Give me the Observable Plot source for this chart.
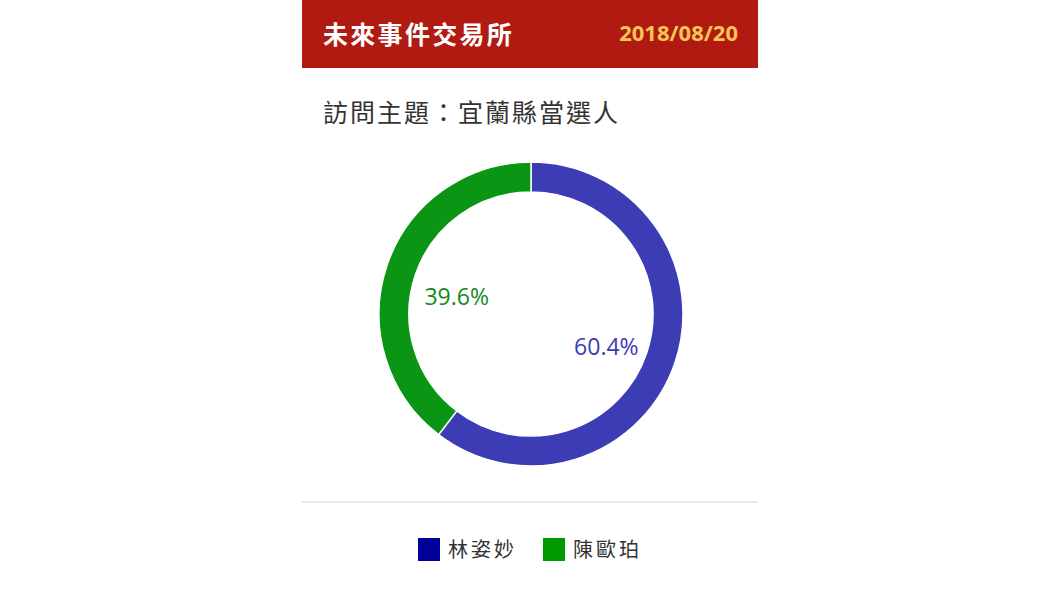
<!DOCTYPE html>
<html>
<head>
<meta charset="utf-8">
<script src="https://cdn.jsdelivr.net/npm/d3@7"></script>
<script src="https://cdn.jsdelivr.net/npm/@observablehq/plot@0.6"></script>
<style>
  html, body { margin: 0; padding: 0; background: #fff; }
  body { width: 1060px; height: 596px; position: relative; overflow: hidden;
         font-family: "Noto Sans CJK TC", "Open Sans", sans-serif; }
  #card { position: absolute; left: 302px; top: 0; width: 456px; height: 596px; }
  #header { position: absolute; left: 0; top: 0; width: 456px; height: 68px; background: #b11a10; }
  #title { position: absolute; left: 21px; top: 15px; font-size: 25px; line-height: 36px;
           color: #fff; letter-spacing: 2.3px; font-weight: 700; }
  #date { position: absolute; right: 20px; top: 16px; font-size: 22px; line-height: 32px;
          color: #f6c55a; font-weight: 700; font-family: "Open Sans", sans-serif; }
  #subtitle { position: absolute; left: 21px; top: 95px; font-size: 25px; line-height: 32px;
              color: #333; letter-spacing: 2px; }
  #chart { position: absolute; left: 65px; top: 150px; }
  #rule { position: absolute; left: 0; top: 501px; width: 456px; height: 2px; background: #e8e8e8; }
  #legend { position: absolute; left: 0; top: 535px; width: 456px; display: flex; justify-content: center;
            align-items: center; }
  .item { display: flex; align-items: center; margin: 0 13px; }
  .sw { width: 22px; height: 23px; margin-right: 8px; }
  .lab { font-size: 20px; letter-spacing: 3px; color: #333; line-height: 28px; }
</style>
</head>
<body>
<div id="card">
  <div id="header"><div id="title"></div><div id="date"></div></div>
  <div id="subtitle"></div>
  <div id="chart"></div>
  <div id="rule"></div>
  <div id="legend"></div>
</div>
<script>
const titleText = "未來事件交易所";
const dateText = "2018/08/20";
const subtitleText = "訪問主題：宜蘭縣當選人";
const candidates = ["林姿妙", "陳歐珀"];
const shares = [60.4, 39.6];
const ringColors = ["#3c3cb4", "#0a9614"];
const labelColors = ["#3c3cb4", "#14891a"];
const legendColors = ["#000099", "#009900"];

document.getElementById("title").textContent = titleText;
document.getElementById("date").textContent = dateText;
document.getElementById("subtitle").textContent = subtitleText;

const innerRatio = 0.803;
const labelRadius = 0.52;

const pie = d3.pie().sort(null).value(d => d.share).startAngle(0).endAngle(2 * Math.PI);
const rows = candidates.map((name, i) => ({name, share: shares[i], ring: ringColors[i], label: labelColors[i]}));
const arcs = pie(rows);
const labels = arcs.map(a => {
  const mid = (a.startAngle + a.endAngle) / 2;
  return {
    x: labelRadius * Math.sin(mid),
    y: labelRadius * Math.cos(mid),
    text: a.data.share.toFixed(1) + "%",
    color: a.data.label
  };
});

const ringMark = (index, scales) => {
  const cx = scales.x(0), cy = scales.y(0);
  const R = scales.x(1) - scales.x(0);
  const arc = d3.arc().innerRadius(R * innerRatio).outerRadius(R);
  const g = d3.create("svg:g").attr("transform", `translate(${cx},${cy})`);
  g.selectAll("path").data(arcs).join("path")
    .attr("d", arc)
    .attr("fill", d => d.data.ring)
    .attr("stroke", "#fff")
    .attr("stroke-width", 1.5);
  return g.node();
};

const plot = Plot.plot({
  width: 328,
  height: 328,
  margin: 12,
  x: {domain: [-1, 1], axis: null},
  y: {domain: [-1, 1], axis: null},
  style: {background: "transparent", fontFamily: "'Open Sans', sans-serif"},
  marks: [
    ringMark,
    Plot.text(labels, {x: "x", y: "y", text: "text", fill: d => d.color, fontSize: 23, dy: 8})
  ]
});
document.getElementById("chart").appendChild(plot);

const legend = document.getElementById("legend");
candidates.forEach((name, i) => {
  const item = document.createElement("div");
  item.className = "item";
  const sw = document.createElement("div");
  sw.className = "sw";
  sw.style.background = legendColors[i];
  const lab = document.createElement("span");
  lab.className = "lab";
  lab.textContent = name;
  item.appendChild(sw);
  item.appendChild(lab);
  legend.appendChild(item);
});
</script>
</body>
</html>
